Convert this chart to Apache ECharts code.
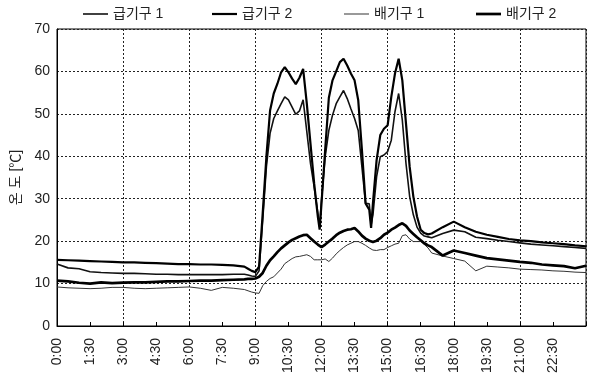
<!DOCTYPE html>
<html>
<head>
<meta charset="utf-8">
<script src="https://cdn.jsdelivr.net/npm/echarts@6/dist/echarts.min.js"></script>
<style>
  html, body { margin: 0; padding: 0; background: #fff; }
  #chart { width: 589px; height: 381px; }
</style>
</head>
<body>
<div id="chart"></div>
<script>
// Sampling times (H:MM); 10-minute steps through the daytime run
const times = [
  '0:00','0:30','1:00','1:30','2:00','2:30','3:00','3:30','4:00','4:30','5:00','5:30',
  '6:00','6:30','7:00','7:30','8:00','8:30','8:40','8:50','9:00',
  '9:10','9:20','9:30','9:40','9:50',
  '10:00','10:10','10:20','10:30','10:40','10:50',
  '11:00','11:10','11:20','11:30','11:40','11:50','11:55',
  '12:00','12:10','12:20','12:30','12:40','12:50',
  '13:00','13:10','13:20','13:30','13:40','13:50',
  '14:00','14:10','14:15','14:20','14:30','14:40','14:50',
  '15:00','15:10','15:20','15:30','15:40','15:50',
  '16:00','16:10','16:20','16:30','16:40','16:50',
  '17:00','17:30','18:00','18:30','19:00','19:30','20:00','20:30',
  '21:00','21:30','22:00','22:30','23:00','23:30','24:00'
];

// Temperatures (°C)
const supply1 = [
  14.6,13.7,13.5,12.8,12.6,12.5,12.4,12.4,12.3,12.2,12.2,12.1,
  12.1,12.1,12.1,12.1,12.2,12.2,12.0,11.8,11.7,
  13.0,25.0,37.5,45.4,48.9,
  50.7,52.4,54.0,53.3,51.6,49.9,
  50.7,53.3,45.8,38.3,32.8,26.6,23.3,
  29.7,39.9,46.1,49.7,52.4,54.0,
  55.5,53.6,51.2,48.9,46.1,37.5,
  28.9,28.8,23.8,26.2,35.2,39.9,40.3,
  41.1,43.8,50.5,54.8,48.5,38.3,
  30.5,26.2,23.3,21.9,21.2,21.0,
  20.8,21.8,22.6,22.2,20.9,20.6,20.2,19.9,
  19.6,19.3,19.1,18.9,18.7,18.5,18.3
];
const supply2 = [
  15.6,15.5,15.4,15.3,15.2,15.1,15.0,15.0,14.9,14.8,14.7,14.6,
  14.6,14.5,14.5,14.4,14.3,14.0,13.5,13.0,12.7,
  14.0,26.6,39.9,50.8,54.8,
  57.1,59.8,61.0,59.8,58.3,57.0,
  58.5,60.6,52.4,43.0,33.6,25.8,22.7,
  28.9,41.5,53.8,57.9,60.0,62.2,
  63.0,61.4,59.5,57.9,53.2,41.5,
  28.9,27.4,23.1,28.9,39.1,45.0,46.5,
  47.3,54.0,59.5,63.0,57.9,47.7,
  37.5,30.5,25.8,22.7,21.9,21.6,
  21.8,23.3,24.6,23.3,22.2,21.5,21.0,20.5,
  20.2,20.0,19.7,19.5,19.3,19.0,18.8
];
const exhaust1 = [
  9.2,9.0,8.9,8.8,8.9,9.1,9.1,8.9,8.8,8.9,9.0,9.1,
  9.2,8.9,8.4,9.1,8.9,8.6,8.3,8.0,7.8,
  7.7,9.5,10.5,11.2,11.6,
  12.5,13.4,14.7,15.3,15.9,16.3,
  16.4,16.6,16.8,16.4,15.6,15.6,15.6,
  15.6,15.8,15.2,16.0,17.0,17.8,
  18.5,19.1,19.5,19.9,19.9,19.5,
  19.0,18.4,18.0,17.9,17.8,18.0,18.0,
  18.5,18.9,19.3,19.5,21.3,21.5,
  20.5,19.9,19.9,19.9,19.2,18.4,
  17.2,16.5,15.9,15.3,13.0,14.1,13.9,13.7,
  13.4,13.3,13.2,13.0,12.9,12.7,12.6
];
const exhaust2 = [
  10.7,10.5,10.2,10.0,10.3,10.1,10.2,10.3,10.3,10.4,10.5,10.5,
  10.6,10.7,10.7,10.8,10.9,11.0,11.1,11.1,11.2,
  11.6,12.5,14.2,15.5,16.4,
  17.4,18.3,19.0,19.7,20.3,20.7,
  21.1,21.4,21.5,20.7,19.9,19.2,19.0,
  18.6,19.2,19.9,20.6,21.4,22.0,
  22.4,22.7,22.8,23.1,22.3,21.3,
  20.6,20.1,19.9,19.8,20.1,20.7,21.5,
  22.0,22.7,23.2,23.8,24.2,23.6,
  22.5,21.7,20.9,20.2,19.5,19.0,
  18.6,16.6,17.8,17.2,16.6,16.0,15.7,15.4,
  15.1,14.9,14.5,14.3,14.1,13.6,14.2
];

const seriesNames = ['급기구 1', '급기구 2', '배기구 1', '배기구 2'];
const xTickLabels = ['0:00','1:30','3:00','4:30','6:00','7:30','9:00','10:30',
  '12:00','13:30','15:00','16:30','18:00','19:30','21:00','22:30'];

const FONT = "'Liberation Sans', 'Noto Sans CJK KR', sans-serif";

function toMinutes(s) {
  const p = s.split(':');
  return Number(p[0]) * 60 + Number(p[1]);
}
function pairs(values) {
  return values.map((v, i) => [toMinutes(times[i]), v]);
}

const styles = [
  { width: 1.6, color: '#111' },
  { width: 2.2, color: '#000' },
  { width: 1.0, color: '#333' },
  { width: 2.7, color: '#000' }
];
const valueSets = [supply1, supply2, exhaust1, exhaust2];
const legendLeft = [83, 212, 344, 476];

const chart = echarts.init(document.getElementById('chart'), null, { renderer: 'canvas' });

chart.setOption({
  animation: false,
  backgroundColor: '#fff',
  textStyle: { fontFamily: FONT, color: '#222' },
  legend: seriesNames.map((name, i) => ({
    data: [name],
    left: legendLeft[i],
    top: 7,
    padding: 0,
    icon: 'rect',
    itemWidth: 25,
    itemHeight: styles[i].width,
    itemStyle: { color: styles[i].color },
    textStyle: { fontFamily: FONT, fontSize: 14, color: '#222' }
  })),
  grid: {
    left: 57, right: 3, top: 29, bottom: 55,
    show: true, borderColor: '#000', borderWidth: 1
  },
  xAxis: [
    {
      type: 'value', min: 0, max: 1440, interval: 90,
      axisLine: { show: true, lineStyle: { color: '#000', width: 1 } },
      axisTick: { show: true, inside: true, length: 4, lineStyle: { color: '#000' } },
      splitLine: { show: false },
      axisLabel: {
        rotate: 90, margin: 12, fontSize: 14, color: '#222', fontFamily: FONT,
        formatter: v => (v < 1440 ? xTickLabels[Math.round(v / 90)] : '')
      }
    },
    {
      // 3-hour vertical grid lines
      type: 'value', min: 0, max: 1440, interval: 180, position: 'bottom',
      axisLine: { show: false }, axisTick: { show: false }, axisLabel: { show: false },
      splitLine: { show: true, lineStyle: { color: '#222', width: 1, type: [2, 2] } }
    }
  ],
  yAxis: {
    type: 'value', min: 0, max: 70, interval: 10,
    name: '온 도 [℃]', nameLocation: 'middle', nameGap: 27, nameRotate: 90,
    nameTextStyle: { fontSize: 14, color: '#222', fontFamily: FONT },
    axisLine: { show: true, lineStyle: { color: '#000', width: 1 } },
    axisTick: { show: false },
    axisLabel: { margin: 7, fontSize: 14, color: '#222', fontFamily: FONT },
    splitLine: { show: true, lineStyle: { color: '#222', width: 1, type: [2, 2] } }
  },
  series: seriesNames.map((name, i) => ({
    name: name,
    type: 'line',
    xAxisIndex: 0,
    data: pairs(valueSets[i]),
    symbol: 'none',
    smooth: false,
    lineStyle: { width: styles[i].width, color: styles[i].color },
    itemStyle: { color: styles[i].color },
    z: 3 + i
  }))
});
</script>
</body>
</html>
